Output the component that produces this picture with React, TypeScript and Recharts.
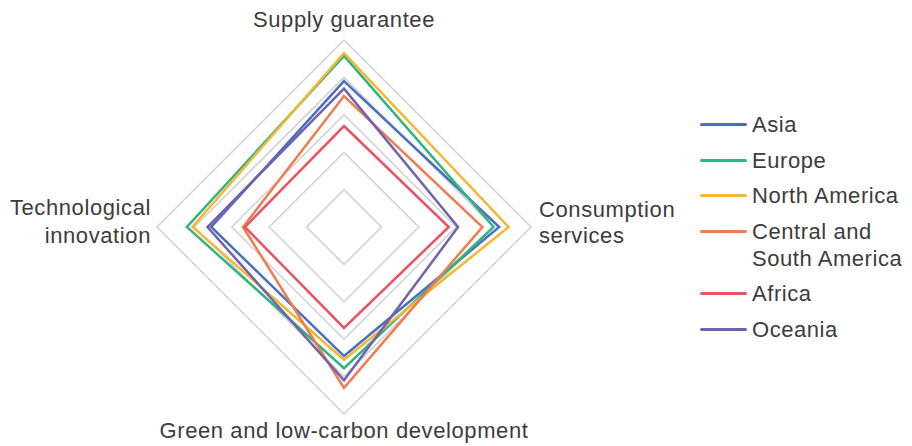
import React from "react";
import {
  RadarChart,
  Radar,
  PolarGrid,
  PolarAngleAxis,
  PolarRadiusAxis,
  Legend,
} from "recharts";

const categories = [
  "Supply guarantee",
  "Consumption services",
  "Green and low-carbon development",
  "Technological innovation",
];

const asia = [78, 83, 69, 71];
const europe = [91.5, 80, 75.5, 84];
const northAmerica = [93, 88, 71, 81];
const centralSouthAmerica = [70, 74, 86, 54];
const africa = [54, 56, 54, 53];
const oceania = [74, 61, 82, 73];

const seriesNames = [
  "Asia",
  "Europe",
  "North America",
  "Central and South America",
  "Africa",
  "Oceania",
];
const seriesValues = [asia, europe, northAmerica, centralSouthAmerica, africa, oceania];
const COLORS = ["#4a6fc0", "#2fb57f", "#f5b731", "#f27a4b", "#ee5262", "#7262ae"];

const data = categories.map((name, i) => {
  const row: Record<string, string | number> = { name };
  seriesNames.forEach((s, j) => {
    row[s] = seriesValues[j][i];
  });
  return row;
});

const FONT = "'Liberation Sans', Arial, sans-serif";
const CX = 344;
const CY = 227;
const R = 187;

const renderTick = (props: any) => {
  const value: string = props.payload.value;
  const common = { fontSize: 22, fill: "#3c3c3c", fontFamily: FONT, letterSpacing: 0.6 };
  if (value === "Supply guarantee") {
    return (
      <text x={CX} y={CY - R - 13} textAnchor="middle" {...common}>
        {value}
      </text>
    );
  }
  if (value === "Green and low-carbon development") {
    return (
      <text x={CX} y={CY + R + 24} textAnchor="middle" {...common}>
        {value}
      </text>
    );
  }
  if (value === "Technological innovation") {
    return (
      <text x={CX - R - 6} y={CY - 12} textAnchor="end" {...common}>
        <tspan x={CX - R - 6}>Technological</tspan>
        <tspan x={CX - R - 6} dy={28}>innovation</tspan>
      </text>
    );
  }
  return (
    <text x={CX + R + 8} y={CY - 10} textAnchor="start" {...common}>
      <tspan x={CX + R + 8}>Consumption</tspan>
      <tspan x={CX + R + 8} dy={26}>services</tspan>
    </text>
  );
};

const renderLegend = () => (
  <div style={{ fontFamily: FONT, fontSize: 22, color: "#3c3c3c", letterSpacing: 0.55 }}>
    {seriesNames.map((s, i) => (
      <div key={s} style={{ display: "flex", alignItems: "flex-start", marginBottom: 8.5 }}>
        <div
          style={{
            width: 47,
            height: 3,
            borderRadius: 2,
            background: COLORS[i],
            marginTop: 12,
            marginRight: 5,
            flexShrink: 0,
          }}
        />
        <div style={{ width: 160, lineHeight: "27px" }}>{s}</div>
      </div>
    ))}
  </div>
);

export default function App() {
  return (
    <div style={{ position: "relative", top: -8, left: -8, width: 912, height: 446 }}>
      <RadarChart
        width={912}
        height={446}
        data={data}
        cx={CX}
        cy={CY}
        outerRadius={R}
        margin={{ top: 0, right: 0, bottom: 0, left: 0 }}
      >
        <PolarGrid gridType="polygon" radialLines={false} stroke="#d0d0d0" strokeWidth={1.5} />
        <PolarAngleAxis dataKey="name" tick={renderTick} tickLine={false} axisLine={false} />
        <PolarRadiusAxis domain={[0, 100]} tickCount={6} tick={false} axisLine={false} />
        {seriesNames.map((s, i) => (
          <Radar
            key={s}
            name={s}
            dataKey={s}
            stroke={COLORS[i]}
            strokeWidth={2.5}
            fill="none"
            fillOpacity={0}
            isAnimationActive={false}
          />
        ))}
        <Legend
          content={renderLegend}
          layout="vertical"
          wrapperStyle={{ left: 700, top: 111, width: 212 }}
        />
      </RadarChart>
    </div>
  );
}
